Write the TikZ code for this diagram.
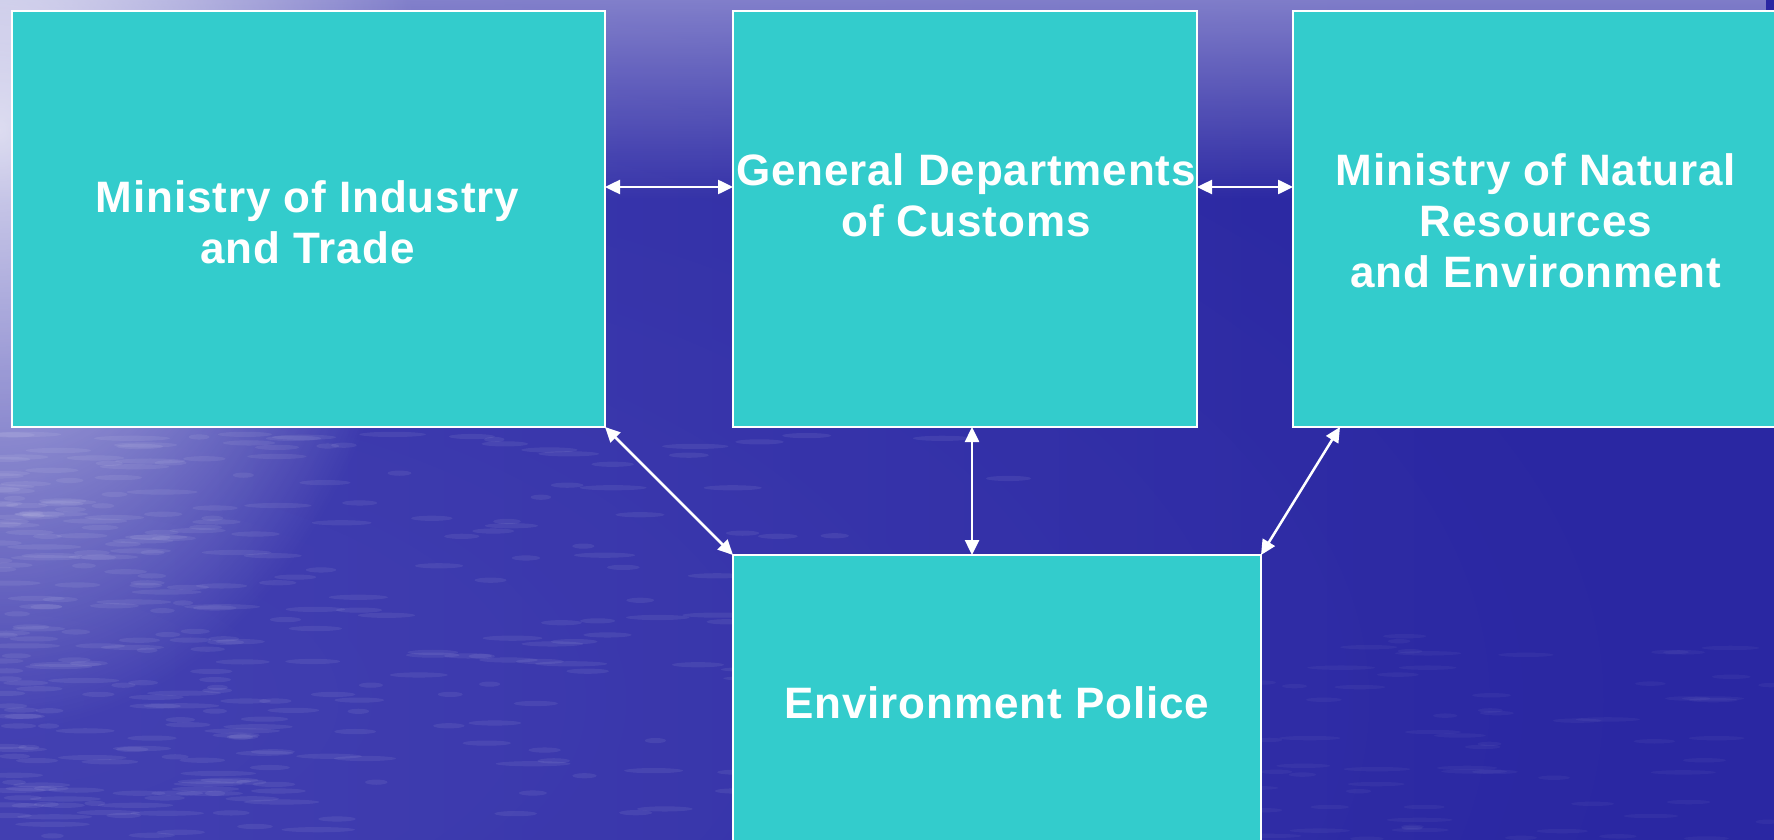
\documentclass[tikz,border=0pt]{standalone}
\usepackage{fontspec}
\newfontfamily\boxfont{Liberation Sans}[LetterSpace=2.0]
\usetikzlibrary{arrows.meta,fadings}
\definecolor{boxteal}{HTML}{33CCCC}
\definecolor{seablue}{HTML}{2A27A2}
\definecolor{sealight}{HTML}{5654BE}
\definecolor{skylav}{HTML}{A4A2DA}
\tikzfading[name=fadeR, left color=transparent!0, right color=transparent!100]
\tikzfading[name=fadeDown, top color=transparent!0, bottom color=transparent!100]
\tikzfading[name=fadeRad, inner color=transparent!0, outer color=transparent!100]
\tikzset{
  orgbox/.style={draw=white, line width=2pt, fill=boxteal, inner sep=0pt, outer sep=0pt},
  orgtext/.style={text=white, align=center, inner sep=0pt, anchor=north,
    font=\boxfont\bfseries\fontsize{44}{51}\selectfont},
  biarrow/.style={draw=white, line width=2.5pt,
    {Triangle[length=15pt,width=14pt]}-{Triangle[length=15pt,width=14pt]}}
}
\begin{document}
\begin{tikzpicture}[x=1pt,y=-1pt]
\useasboundingbox (0,0) rectangle (1774,840);
\clip (0,0) rectangle (1774,840);
% background
\fill[seablue] (0,0) rectangle (1774,840);
\fill[sealight, opacity=0.55, path fading=fadeR] (-700,0) rectangle (1500,840);
\fill[sealight, opacity=0.35, path fading=fadeRad] (0,700) ellipse [x radius=1700, y radius=800];
\pgfmathsetseed{11}
\foreach \i in {1,...,340}{
  \pgfmathsetmacro{\sx}{1150*rnd*rnd}
  \pgfmathsetmacro{\sy}{432+408*rnd}
  \pgfmathsetmacro{\sl}{10+28*rnd}
  \fill[white, opacity=0.07] (\sx,\sy) ellipse [x radius=\sl, y radius=2.6];
}
\foreach \i in {1,...,80}{
  \pgfmathsetmacro{\sx}{1100+674*rnd}
  \pgfmathsetmacro{\sy}{620+220*rnd}
  \pgfmathsetmacro{\sl}{10+24*rnd}
  \fill[white, opacity=0.04] (\sx,\sy) ellipse [x radius=\sl, y radius=2.2];
}
\fill[skylav, opacity=0.9, path fading=fadeDown] (0,-60) rectangle (1774,200);
\fill[white, opacity=0.8, path fading=fadeRad] (0,130) ellipse [x radius=420, y radius=600];
% boxes
\node[orgbox, minimum width=593pt, minimum height=416pt] (b1) at (308.5,219) {};
\node[orgbox, minimum width=464pt, minimum height=416pt] (b2) at (965,219) {};
\node[orgbox, minimum width=497pt, minimum height=416pt] (b3) at (1541.5,219) {};
\node[orgbox, minimum width=528pt, minimum height=345pt] (b4) at (997,727.5) {};
% texts
\node[orgtext] (t1) at (307.5,176.3) {\strut Ministry of Industry\\\strut and Trade};
\node[orgtext] (t2) at (966,149.3) {\strut General Departments\\\strut of Customs};
\node[orgtext] (t3) at (1536,149.3) {\strut Ministry of Natural\\\strut Resources\\\strut and Environment};
\node[orgtext] (t4) at (997,682.3) {\strut Environment Police};
% connectors
\coordinate (hy) at (0,187);
\coordinate (vx) at (972,0);
\coordinate (dx) at (1340,0);
\draw[biarrow] (b1.east |- hy) -- (b2.west |- hy);
\draw[biarrow] (b2.east |- hy) -- (b3.west |- hy);
\draw[biarrow] (b1.south east) -- (b4.north west);
\draw[biarrow] (vx |- b2.south) -- (vx |- b4.north);
\draw[biarrow] (dx |- b3.south) -- (b4.north east);
\end{tikzpicture}
\end{document}
